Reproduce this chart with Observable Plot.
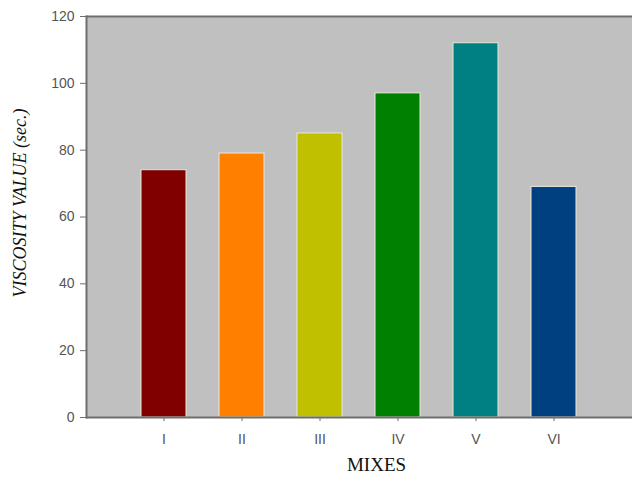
<!DOCTYPE html>
<html><head><meta charset="utf-8">
<script src="https://cdn.jsdelivr.net/npm/d3@7"></script>
<script src="https://cdn.jsdelivr.net/npm/@observablehq/plot@0.6"></script>
<style>body{margin:0;background:#fff;}</style>
</head><body><div id="chart"></div>
<script>
const mixes = ["I","II","III","IV","V","VI"];
const viscosity = [74, 79, 85, 97, 112, 69];
const colors = ["#800000","#ff8000","#c0c000","#008000","#008080","#004080"];
const yTicks = [0,20,40,60,80,100,120];
const data = mixes.map((m,i)=>({mix:m, value:viscosity[i], color:colors[i]}));

const chart = Plot.plot({
  width: 632, height: 482,
  marginLeft: 86, marginRight: 0, marginTop: 16, marginBottom: 65,
  style: {fontFamily: "'Liberation Sans', Arial, sans-serif", fontSize: "14px", background: "#fff"},
  x: {domain: mixes, paddingInner: 0.423, paddingOuter: 0.7115, label: null},
  y: {domain: [0,120], label: null},
  marks: [
    Plot.frame({fill: "#c0c0c0", stroke: null}),
    Plot.barY(data, {x: "mix", y: "value", fill: "color", stroke: "#e8e8d8", strokeWidth: 1}),
    Plot.frame({anchor: "left", stroke: "#6e6e6e", strokeWidth: 2}),
    Plot.ruleY([0, 120], {stroke: "#6e6e6e", strokeWidth: 2}),
    Plot.axisY({ticks: yTicks, tickSize: 6, tickPadding: 6, color: "#555", stroke: "#6e6e6e", fontSize: 14, label: null}),
    Plot.axisX({tickSize: 4, tickPadding: 13, color: "#555", stroke: "#6e6e6e", fontSize: 14, label: null}),
    Plot.text(["VISCOSITY VALUE (sec.)"], {frameAnchor: "left", textAnchor: "middle", rotate: -90, dx: -66, dy: -14, fontStyle: "italic", fontFamily: "'Liberation Serif', 'Times New Roman', serif", fontSize: 18, fill: "#111"}),
    Plot.text(["MIXES"], {frameAnchor: "bottom", dy: 53, dx: 17, fontFamily: "'Liberation Serif', 'Times New Roman', serif", fontSize: 19, fill: "#111"})
  ]
});
document.getElementById("chart").append(chart);
</script>
</body></html>
